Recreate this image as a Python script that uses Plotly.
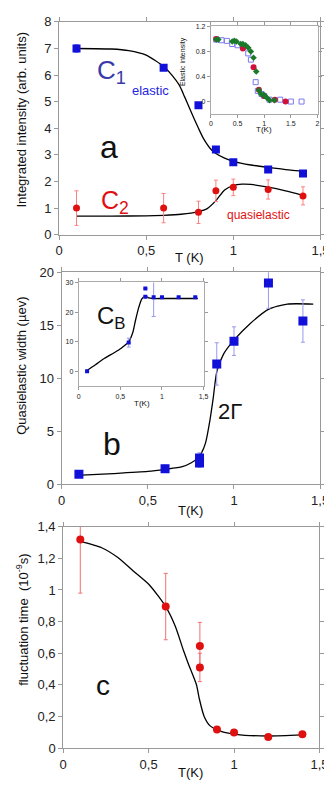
import plotly.graph_objects as go

# ---------------------------------------------------------------------------
# Data
# ---------------------------------------------------------------------------
# (a) integrated intensities
T_a = [0.1, 0.6, 0.8, 0.9, 1.0, 1.2, 1.4]
C1 = [7.0, 6.28, 4.87, 3.2, 2.72, 2.45, 2.3]
C1_err = [0.15, 0.1, 0, 0, 0, 0, 0]
C2 = [1.0, 1.0, 0.84, 1.65, 1.78, 1.70, 1.46]
C2_err = [0.65, 0.55, 0.42, 0.4, 0.31, 0.36, 0.34]
C1_fitT = [0.1, 0.3, 0.4, 0.5, 0.6, 0.65, 0.69, 0.72, 0.76, 0.8, 0.83, 0.87, 0.9, 0.95, 1.0, 1.1, 1.2, 1.3, 1.42]
C1_fit = [7.0, 6.98, 6.92, 6.75, 6.32, 5.98, 5.62, 5.19, 4.58, 4.0, 3.6, 3.22, 3.05, 2.88, 2.76, 2.62, 2.53, 2.45, 2.38]
C2_fitT = [0.1, 0.3, 0.5, 0.6, 0.7, 0.8, 0.85, 0.9, 0.95, 1.0, 1.05, 1.1, 1.2, 1.3, 1.4]
C2_fit = [0.7, 0.7, 0.71, 0.73, 0.77, 0.87, 0.98, 1.28, 1.68, 1.85, 1.9, 1.89, 1.79, 1.65, 1.48]

# inset (a): elastic intensity
ins_redT = [0.1, 0.6, 0.8, 0.9, 1.0, 1.2, 1.4]
ins_red = [1.0, 0.85, 0.55, 0.19, 0.09, 0.03, 0.0]
ins_blueT = [0.1, 0.2, 0.3, 0.4, 0.5, 0.6, 0.7, 0.75, 0.84, 0.88, 0.95, 1.0, 1.1, 1.3, 1.5, 1.7]
ins_blue = [0.99, 0.98, 0.97, 0.92, 0.9, 0.87, 0.77, 0.67, 0.31, 0.17, 0.12, 0.09, 0.03, 0.03, 0.0, 0.0]
ins_greenT = [0.1, 0.14, 0.4, 0.44, 0.48, 0.56, 0.6, 0.65, 0.7, 0.75, 0.8, 0.85, 0.9, 0.94, 0.99, 1.01, 1.05, 1.1, 1.19]
ins_green = [0.99, 0.99, 0.96, 0.97, 0.96, 0.92, 0.92, 0.9, 0.86, 0.8, 0.7, 0.48, 0.18, 0.12, 0.11, 0.09, 0.06, 0.02, 0.02]

# (b) quasielastic width
T_b = [0.1, 0.6, 0.8, 0.8, 0.9, 1.0, 1.2, 1.4]
W = [0.93, 1.45, 2.46, 2.0, 11.35, 13.5, 19.0, 15.4]
W_err = [0.15, 0.35, 0.5, 0.4, 2.0, 1.35, 2.4, 2.0]
W_fitT = [0.085, 0.3, 0.5, 0.6, 0.7, 0.75, 0.79, 0.81, 0.835, 0.86, 0.88, 0.9, 0.94, 1.0, 1.09, 1.2, 1.31, 1.46]
W_fit = [0.83, 1.0, 1.2, 1.4, 1.65, 2.0, 2.46, 2.9, 3.9, 6.0, 8.2, 10.6, 12.3, 13.6, 15.1, 16.5, 17.0, 17.0]

# inset (b): C_B
T_cb = [0.1, 0.6, 0.8, 0.8, 0.9, 1.0, 1.2, 1.4]
CB = [0.0, 9.7, 28.0, 25.2, 25.0, 25.0, 25.0, 25.0]
CB_err = [0, 1.5, 0, 0, 6.5, 0, 0, 0]
CB_fitT = [0.083, 0.2, 0.31, 0.42, 0.506, 0.6, 0.65, 0.68, 0.72, 0.756, 0.8, 0.84, 0.89, 1.0, 1.2, 1.43]
CB_fit = [0.0, 2.2, 4.4, 6.2, 7.7, 10.0, 13.2, 17.0, 21.5, 24.4, 25.5, 24.8, 24.6, 24.6, 24.6, 24.6]

# (c) fluctuation time
T_c = [0.1, 0.6, 0.8, 0.8, 0.9, 1.0, 1.2, 1.4]
tau = [1.32, 0.895, 0.645, 0.51, 0.117, 0.098, 0.07, 0.087]
tau_err = [0.34, 0.21, 0.15, 0.09, 0.015, 0.008, 0.006, 0.006]
tau_fitT = [0.09, 0.225, 0.32, 0.41, 0.506, 0.6, 0.656, 0.703, 0.73, 0.78, 0.797, 0.825, 0.86, 0.92, 1.01, 1.2, 1.4]
tau_fit = [1.31, 1.267, 1.205, 1.12, 1.03, 0.894, 0.77, 0.62, 0.54, 0.40, 0.31, 0.2, 0.14, 0.107, 0.087, 0.076, 0.083]

# tick labels
tick_T = [0, 0.5, 1, 1.5]
tick_T_txt = ['0', '0,5', '1', '1,5']
tick_c = [0, 0.2, 0.4, 0.6, 0.8, 1, 1.2, 1.4]
tick_c_txt = ['0', '0,2', '0,4', '0,6', '0,8', '1', '1,2', '1,4']
tick_ia_x = [0, 0.5, 1, 1.5, 2]
tick_ia_x_txt = ['0', '0.5', '1', '1.5', '2']
tick_ia_y = [0, 0.4, 0.8, 1.2]
tick_ia_y_txt = ['0', '0.4', '0.8', '1.2']

# ---------------------------------------------------------------------------
W_PX, H_PX = 332, 785
FONT = 'Liberation Sans, Arial, sans-serif'
BLUE = '#1010d8'
RED = '#e01010'


def px(x):
    return x / W_PX


def py(y):
    return 1 - y / H_PX


fig = go.Figure()


def line(x, y, ax):
    fig.add_trace(go.Scatter(x=x, y=y, mode='lines', xaxis='x' + ax, yaxis='y' + ax,
                             line=dict(color='black', width=1.3, shape='spline', smoothing=0.6),
                             showlegend=False, hoverinfo='skip'))


def pts(x, y, ax, color, symbol, size, err=None, ecolor=None, open_=False):
    marker = dict(color=color, symbol=symbol, size=size)
    if open_:
        marker = dict(color=color, symbol=symbol + '-open', size=size, line=dict(width=1))
    fig.add_trace(go.Scatter(
        x=x, y=y, mode='markers', xaxis='x' + ax, yaxis='y' + ax, marker=marker,
        error_y=None if err is None else dict(type='data', array=err, color=ecolor, thickness=1, width=2),
        showlegend=False))


# panel a
line(C1_fitT, C1_fit, '')
line(C2_fitT, C2_fit, '')
pts(T_a, C1, '', BLUE, 'square', 8, C1_err, '#8c8cff')
pts(T_a, C2, '', RED, 'circle', 7, C2_err, '#ff8080')
# inset a
pts(ins_blueT, ins_blue, '4', '#7a7af0', 'square', 5, open_=True)
pts(ins_redT, ins_red, '4', '#d0103a', 'circle', 6)
pts(ins_greenT, ins_green, '4', '#1a7a2a', 'diamond', 5)
# panel b
line(W_fitT, W_fit, '2')
pts(T_b, W, '2', BLUE, 'square', 9, W_err, '#9898f0')
# inset b
line(CB_fitT, CB_fit, '5')
pts(T_cb, CB, '5', BLUE, 'square', 4, CB_err, '#9898f0')
# panel c
line(tau_fitT, tau_fit, '3')
pts(T_c, tau, '3', RED, 'circle', 8, tau_err, '#f07070')

ax_common = dict(showline=True, linecolor='#999', linewidth=1, mirror='ticks', ticks='outside',
                 ticklen=4, tickcolor='#999', showgrid=False, zeroline=False,
                 tickfont=dict(family=FONT, size=13, color='#222'))
ins_common = dict(ax_common, ticklen=3, tickfont=dict(family=FONT, size=7, color='#222'), linecolor='#aaa')

fig.update_layout(
    width=W_PX, height=H_PX, margin=dict(l=0, r=0, t=0, b=0),
    paper_bgcolor='white', plot_bgcolor='white', font=dict(family=FONT, color='#222'),
    xaxis=dict(ax_common, domain=[px(49), px(321)], range=[0, 1.5], tickvals=tick_T, ticktext=tick_T_txt, anchor='y'),
    yaxis=dict(ax_common, domain=[py(224), py(7)], range=[0, 8], dtick=1, anchor='x'),
    xaxis2=dict(ax_common, domain=[px(51.7), px(320.7)], range=[0, 1.5], tickvals=tick_T, ticktext=tick_T_txt, anchor='y2'),
    yaxis2=dict(ax_common, domain=[py(478.3), py(262.3)], range=[0, 20], dtick=5, anchor='x2'),
    xaxis3=dict(ax_common, domain=[px(53.3), px(320)], range=[0, 1.5], tickvals=tick_T, ticktext=tick_T_txt, anchor='y3'),
    yaxis3=dict(ax_common, domain=[py(747.3), py(521.7)], range=[0, 1.4], tickvals=tick_c, ticktext=tick_c_txt, anchor='x3'),
    xaxis4=dict(ins_common, domain=[px(207), px(318)], range=[0, 2], tickvals=tick_ia_x, ticktext=tick_ia_x_txt, anchor='y4'),
    yaxis4=dict(ins_common, domain=[py(101), py(11.7)], range=[-0.2, 1.2], tickvals=tick_ia_y, ticktext=tick_ia_y_txt, anchor='x4'),
    xaxis5=dict(ins_common, domain=[px(69.5), px(199.4)], range=[0, 1.5], tickvals=tick_T, ticktext=tick_T_txt, anchor='y5'),
    yaxis5=dict(ins_common, domain=[py(378.4), py(272.7)], range=[-5, 30], dtick=10, anchor='x5'),
)


def note(text, x, y, size, color='#111', angle=0):
    fig.add_annotation(text=text, x=px(x), y=py(y), xref='paper', yref='paper', showarrow=False,
                       textangle=angle, font=dict(family=FONT, size=size, color=color),
                       xanchor='center', yanchor='middle')


# panel a labels
note('C<sub>1</sub>', 104, 58, 26, '#3a3aa8')
note('elastic', 144, 77, 13, '#2525e0')
note('a', 101, 135, 32)
note('C<sub>2</sub>', 107, 191, 25, RED)
note('quasielastic', 257, 204, 12, RED)
note('Integrated intensity (arb. units)', 10, 107, 13, angle=-90)
note('T (K)', 185, 247, 13)
note('Elastic intensity', 178, 48, 7, angle=-90)
note('T(K)', 262, 117, 8)
# panel b labels
note('C<sub>B</sub>', 104, 308, 24)
note('b', 104, 437, 32)
note('2Γ', 227, 404, 22)
note('Quasielastic width (µev)', 10, 358, 13, angle=-90)
note('T(K)', 186, 505, 13)
note('T(K)', 135, 396, 8)
# panel c labels
note('c', 95, 684, 28)
note('fluctuation time  (10<sup>-9</sup>s)', 11, 617, 13, angle=-90)
note('T(K)', 186, 772, 13)

fig.write_html('out.html')
